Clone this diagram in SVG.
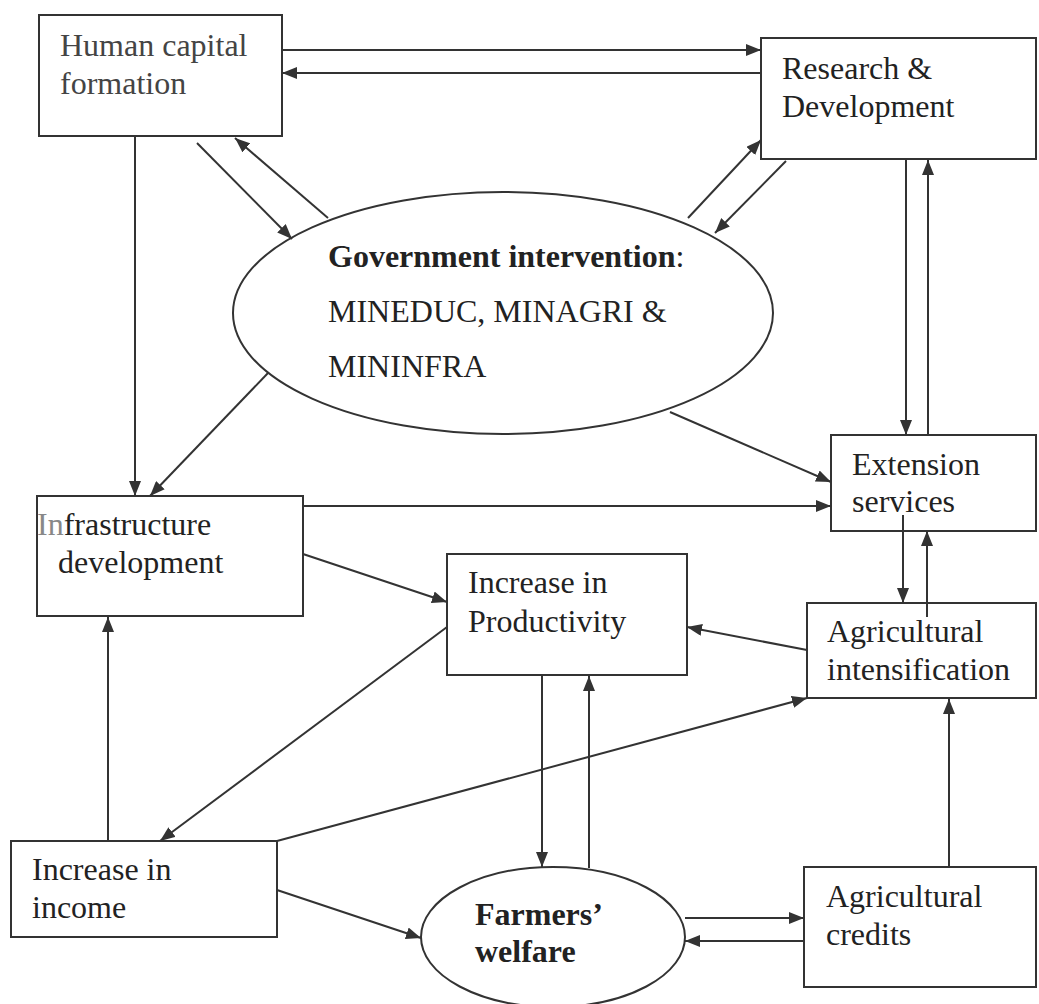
<svg xmlns="http://www.w3.org/2000/svg" width="1039" height="1004" viewBox="0 0 1039 1004">
<style>
.box{fill:#fff;stroke:#333;stroke-width:2}
.ell{fill:#fff;stroke:#333;stroke-width:2}
.t{font-family:'Liberation Serif','DejaVu Serif',serif;font-size:32px;fill:#222}
.b{font-weight:bold}
.c line{stroke:#333;stroke-width:2;marker-end:url(#ah)}
</style>
<defs>
<marker id="ah" markerUnits="userSpaceOnUse" markerWidth="16" markerHeight="12" refX="15" refY="6" orient="auto">
<path d="M0,0 L15,6 L0,12 z" fill="#333"/>
</marker>
</defs>
<rect width="1039" height="1004" fill="#fff"/>
<g id="human-capital">
<rect class="box" x="39" y="15" width="243" height="121"/>
<text class="t" x="60" y="56" style="fill:#444">Human capital</text>
<text class="t" x="60" y="94" style="fill:#444">formation</text>
</g>
<g id="research">
<rect class="box" x="761" y="38" width="275" height="121"/>
<text class="t" x="782" y="79">Research &amp;</text>
<text class="t" x="782" y="117">Development</text>
</g>
<g id="government">
<ellipse class="ell" cx="503" cy="313" rx="270" ry="121"/>
<text class="t" x="328" y="267"><tspan class="b">Government intervention</tspan>:</text>
<text class="t" x="328" y="322">MINEDUC, MINAGRI &amp;</text>
<text class="t" x="328" y="377">MININFRA</text>
</g>
<g id="extension">
<rect class="box" x="831" y="435" width="205" height="96"/>
<text class="t" x="852" y="475">Extension</text>
<text class="t" x="852" y="512">services</text>
</g>
<g id="infrastructure">
<rect class="box" x="37" y="496" width="266" height="120"/>
<text class="t" x="37" y="535"><tspan style="fill:#888">In</tspan>frastructure</text>
<text class="t" x="58" y="573">development</text>
</g>
<g id="productivity">
<rect class="box" x="447" y="554" width="240" height="121"/>
<text class="t" x="468" y="593">Increase in</text>
<text class="t" x="468" y="632">Productivity</text>
</g>
<g id="intensification">
<rect class="box" x="807" y="603" width="229" height="95"/>
<text class="t" x="827" y="642">Agricultural</text>
<text class="t" x="827" y="680">intensification</text>
</g>
<g id="income">
<rect class="box" x="11" y="841" width="266" height="96"/>
<text class="t" x="32" y="880">Increase in</text>
<text class="t" x="32" y="918">income</text>
</g>
<g id="welfare">
<ellipse class="ell" cx="553" cy="937" rx="132" ry="70"/>
<text class="t b" x="475" y="925">Farmers’</text>
<text class="t b" x="475" y="962">welfare</text>
</g>
<g id="credits">
<rect class="box" x="804" y="867" width="232" height="120"/>
<text class="t" x="826" y="907">Agricultural</text>
<text class="t" x="826" y="945">credits</text>
</g>
<g id="connectors" class="c">
<line x1="282" y1="50" x2="761" y2="50"/>
<line x1="761" y1="73" x2="282" y2="73"/>
<line x1="197" y1="143" x2="292" y2="239"/>
<line x1="328" y1="218" x2="235" y2="138"/>
<line x1="688" y1="218" x2="761" y2="140"/>
<line x1="786" y1="161" x2="715" y2="233"/>
<line x1="135" y1="136" x2="135" y2="496"/>
<line x1="268" y1="373" x2="150" y2="496"/>
<line x1="906" y1="159" x2="906" y2="435"/>
<line x1="928" y1="435" x2="928" y2="160"/>
<line x1="670" y1="412" x2="831" y2="482"/>
<line x1="303" y1="506" x2="831" y2="506"/>
<line x1="303" y1="554" x2="447" y2="602"/>
<line x1="903" y1="515" x2="903" y2="603"/>
<line x1="927" y1="617" x2="927" y2="531"/>
<line x1="807" y1="650" x2="687" y2="627"/>
<line x1="447" y1="627" x2="160" y2="841"/>
<line x1="108" y1="841" x2="108" y2="617"/>
<line x1="277" y1="841" x2="807" y2="698"/>
<line x1="277" y1="890" x2="421" y2="938"/>
<line x1="542" y1="675" x2="542" y2="867"/>
<line x1="589" y1="868" x2="589" y2="676"/>
<line x1="685" y1="918" x2="804" y2="918"/>
<line x1="804" y1="941" x2="685" y2="941"/>
<line x1="949" y1="867" x2="949" y2="699"/>
</g>
</svg>
